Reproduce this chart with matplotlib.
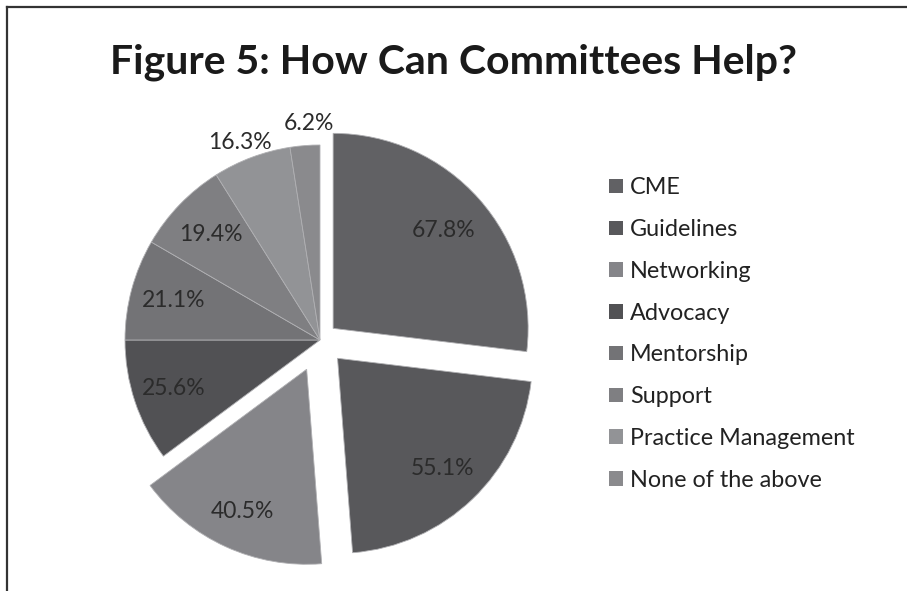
import matplotlib
matplotlib.use("Agg")
import matplotlib.pyplot as plt
from matplotlib.lines import Line2D
import numpy as np

categories = ["CME", "Guidelines", "Networking", "Advocacy", "Mentorship",
              "Support", "Practice Management", "None of the above"]
values = [67.8, 55.1, 40.5, 25.6, 21.1, 19.4, 16.3, 6.2]
value_labels = ["67.8%", "55.1%", "40.5%", "25.6%", "21.1%", "19.4%", "16.3%", "6.2%"]
colors = ["#616164", "#58585b", "#858589", "#515154", "#737376",
          "#7f7f82", "#929396", "#8a8a8d"]
explode = [0.09, 0.13, 0.165, 0, 0, 0, 0, 0]
label_dist = [0.76, 0.78, 0.80, 0.79, 0.78, 0.78, 1.09, 1.11]
label_turn = [0, 0, 0, 0, 0, 0, 1.5, -1.5]
title = "Figure 5: How Can Committees Help?"

plt.rcParams["font.family"] = ["Lato", "DejaVu Sans"]

W, H = 907, 591
fig = plt.figure(figsize=(W / 100, H / 100), dpi=100)
ax = fig.add_axes([0, 0, 1, 1])
R = 195.0
cx, cy = 320.0, 340.0

wedges, _ = ax.pie(values, colors=colors, explode=explode, startangle=90,
                   counterclock=False, radius=1.0,
                   wedgeprops=dict(edgecolor="#b0b0b3", linewidth=0.6),
                   normalize=True)
ax.set_xlim(-cx / R, (W - cx) / R)
ax.set_ylim(-(H - cy) / R, cy / R)
ax.axis("off")

for w, lab, d, t in zip(wedges, value_labels, label_dist, label_turn):
    mid = np.deg2rad((w.theta1 + w.theta2) / 2 + t)
    x0, y0 = w.center
    ax.text(x0 + d * np.cos(mid), y0 + d * np.sin(mid), lab,
            ha="center", va="center", fontsize=16.5, color="#2b2b2b")

fig.text(453 / W, 1 - 62 / H, title, ha="center", va="center",
         fontsize=29.5, fontweight="bold", color="#1a1a1a")

leg = fig.legend(wedges, categories, loc="upper left",
                 bbox_to_anchor=(600 / W, 1 - 168 / H), frameon=False,
                 fontsize=16.8, handlelength=0.58, handleheight=0.58,
                 handletextpad=0.3, labelspacing=0.89, borderaxespad=0)
for t in leg.get_texts():
    t.set_color("#222222")
for h in leg.legend_handles:
    h.set_edgecolor("none")

fig.add_artist(Line2D([7 / W, 1], [1 - 7 / H, 1 - 7 / H], color="#333333", lw=1.6))
fig.add_artist(Line2D([7 / W, 7 / W], [0, 1 - 7 / H], color="#333333", lw=1.6))

fig.savefig("out.png", dpi=100)
